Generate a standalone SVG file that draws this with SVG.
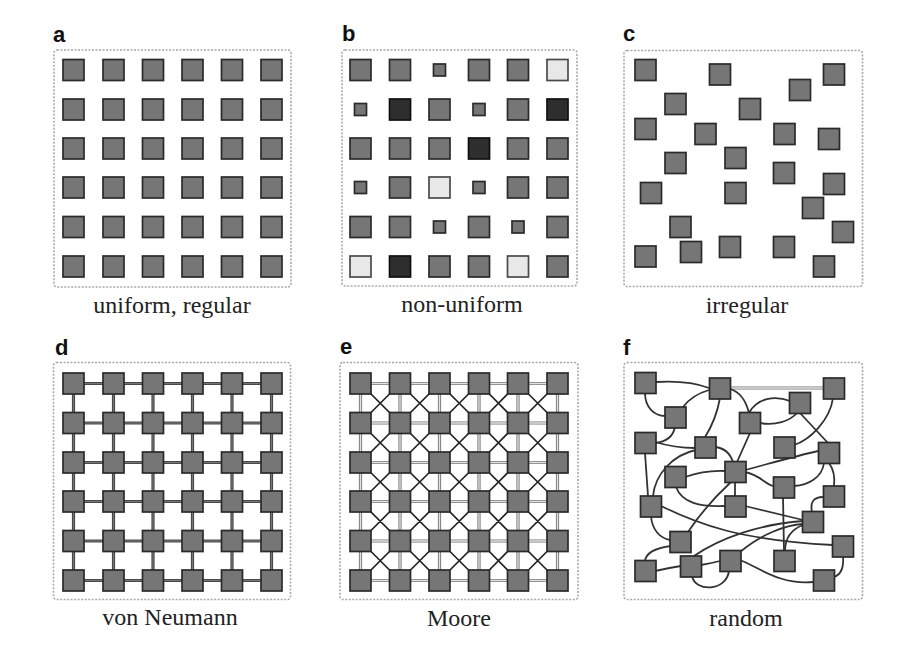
<svg xmlns="http://www.w3.org/2000/svg" width="902" height="646" viewBox="0 0 902 646">
<defs>
<filter id="soft" x="-5%" y="-5%" width="110%" height="110%"><feGaussianBlur stdDeviation="0.45"/></filter>
<style>
.fr{fill:none;stroke:#a9a9a9;stroke-width:1.6;stroke-dasharray:2 1.5}
.sq rect{fill:#767676;stroke:#2a2a2a;stroke-width:1.7}
.sq .lt{fill:#e8e8e8;stroke:#4a4a4a}
.sq .dk{fill:#2f2f2f;stroke:#111}
.lb{font-family:"Liberation Sans",Arial,sans-serif;font-weight:bold;font-size:22px;fill:#111}
.cap{font-family:"Liberation Serif","Times New Roman",serif;font-size:24px;fill:#222;text-anchor:middle}
.dO{fill:none;stroke:#4a4a4a;stroke-width:3.2}
.dI{fill:none;stroke:#767676;stroke-width:1}
.eO{fill:none;stroke:#7a7a7a;stroke-width:3.2}
.eI{fill:none;stroke:#e2e2e2;stroke-width:1.3}
.eD{fill:none;stroke:#222;stroke-width:1.7}
.fc{fill:none;stroke:#333;stroke-width:1.8}
</style>
</defs>
<rect width="902" height="646" fill="#fff"/>

<!-- frames -->
<g id="frames">
<rect class="fr" x="54" y="50" width="237" height="237" rx="3"/>
<rect class="fr" x="342" y="50" width="235" height="236" rx="3"/>
<rect class="fr" x="624" y="50.5" width="238.5" height="236" rx="3"/>
<rect class="fr" x="53.5" y="362.5" width="237" height="237" rx="3"/>
<rect class="fr" x="340" y="362.5" width="238" height="237" rx="3"/>
<rect class="fr" x="624" y="362.5" width="238.5" height="237" rx="3"/>
</g>

<!-- connectors -->
<g id="connectors" filter="url(#soft)">
<g id="conn-d">
<path class="dO" d="M73.5,383.5H271.5M73.5,423H271.5M73.5,462.5H271.5M73.5,501.5H271.5M73.5,541H271.5M73.5,580.5H271.5M73.5,383.5V580.5M113.5,383.5V580.5M153,383.5V580.5M192.5,383.5V580.5M232,383.5V580.5M271.5,383.5V580.5"/>
<path class="dI" d="M73.5,383.5H271.5M73.5,423H271.5M73.5,462.5H271.5M73.5,501.5H271.5M73.5,541H271.5M73.5,580.5H271.5M73.5,383.5V580.5M113.5,383.5V580.5M153,383.5V580.5M192.5,383.5V580.5M232,383.5V580.5M271.5,383.5V580.5"/>
</g>
<g id="conn-e">
<path class="eO" d="M360.5,383.5H557.5M360.5,423H557.5M360.5,462.5H557.5M360.5,501.5H557.5M360.5,541H557.5M360.5,580.5H557.5M360.5,383.5V580.5M400,383.5V580.5M439.5,383.5V580.5M479,383.5V580.5M518,383.5V580.5M557.5,383.5V580.5"/>
<path class="eI" d="M360.5,383.5H557.5M360.5,423H557.5M360.5,462.5H557.5M360.5,501.5H557.5M360.5,541H557.5M360.5,580.5H557.5M360.5,383.5V580.5M400,383.5V580.5M439.5,383.5V580.5M479,383.5V580.5M518,383.5V580.5M557.5,383.5V580.5"/>
<path class="eD" d="M360.5,383.5L400,423L439.5,462.5L479,501.5L518,541L557.5,580.5
M400,383.5L439.5,423L479,462.5L518,501.5L557.5,541
M439.5,383.5L479,423L518,462.5L557.5,501.5
M479,383.5L518,423L557.5,462.5
M518,383.5L557.5,423
M360.5,423L400,462.5L439.5,501.5L479,541L518,580.5
M360.5,462.5L400,501.5L439.5,541L479,580.5
M360.5,501.5L400,541L439.5,580.5
M360.5,541L400,580.5
M557.5,383.5L518,423L479,462.5L439.5,501.5L400,541L360.5,580.5
M518,383.5L479,423L439.5,462.5L400,501.5L360.5,541
M479,383.5L439.5,423L400,462.5L360.5,501.5
M439.5,383.5L400,423L360.5,462.5
M400,383.5L360.5,423
M557.5,423L518,462.5L479,501.5L439.5,541L400,580.5
M557.5,462.5L518,501.5L479,541L439.5,580.5
M557.5,501.5L518,541L479,580.5
M557.5,541L518,580.5"/>
</g>
<g id="conn-f">
<path class="eO" d="M730,388H823"/>
<path class="eI" d="M730,388H823"/>
<path class="fc" d="M656,382 Q688,380 709,388"/>
<path class="fc" d="M645,393 C645,408 655,416 665,416"/>
<path class="fc" d="M709,390 Q692,395 683,407"/>
<path class="fc" d="M720,398 Q716,420 705,437"/>
<path class="fc" d="M730,389 Q744,393 749,413"/>
<path class="fc" d="M749,413 C757,398 775,395 790,401"/>
<path class="fc" d="M760,423 C775,426 790,421 797,413"/>
<path class="fc" d="M800,413 L828,443"/>
<path class="fc" d="M833,398 C830,420 810,440 794,445"/>
<path class="fc" d="M750,433 L737,462"/>
<path class="fc" d="M675,427 C673,437 665,442 655,443"/>
<path class="fc" d="M655,442 Q675,448 695,448"/>
<path class="fc" d="M715,447 C725,448 730,453 733,462"/>
<path class="fc" d="M696,450 C672,455 655,475 653,496"/>
<path class="fc" d="M645,453 L648,496"/>
<path class="fc" d="M685,477 Q705,470 725,471"/>
<path class="fc" d="M745,470 C775,462 800,455 818,451"/>
<path class="fc" d="M745,472 C760,475 765,484 773,486"/>
<path class="fc" d="M735,482 L735,496"/>
<path class="fc" d="M731,482 Q706,505 688,532"/>
<path class="fc" d="M676,487 C682,503 700,507 725,506"/>
<path class="fc" d="M829,463 C834,470 835,478 834,486"/>
<path class="fc" d="M824,463 C822,478 808,485 794,486"/>
<path class="fc" d="M783,497 L784,551"/>
<path class="fc" d="M823,497 C813,497 810,503 812,512"/>
<path class="fc" d="M651,516 C652,530 660,538 670,540"/>
<path class="fc" d="M661,506 C700,525 740,540 833,545"/>
<path class="fc" d="M745,506 L803,520"/>
<path class="fc" d="M694,556 C720,538 760,524 803,521"/>
<path class="fc" d="M740,552 C760,535 785,525 803,524"/>
<path class="fc" d="M803,525 C790,530 785,540 785,551"/>
<path class="fc" d="M671,546 C655,548 646,553 645,561"/>
<path class="fc" d="M655,571 Q668,568 681,566"/>
<path class="fc" d="M701,565 Q712,563 720,561"/>
<path class="fc" d="M692,576 C695,592 726,592 729,571"/>
<path class="fc" d="M740,560 C760,568 780,585 813,582"/>
<path class="fc" d="M843,556 C844,568 840,575 834,577"/>
</g>
</g>

<!-- nodes -->
<g class="sq" filter="url(#soft)">
<g id="panel-a">
<g id="a11"><rect x="63" y="59.5" width="21" height="21"/></g><g id="a12"><rect x="103" y="59.5" width="21" height="21"/></g><g id="a13"><rect x="142.5" y="59.5" width="21" height="21"/></g><g id="a14"><rect x="182" y="59.5" width="21" height="21"/></g><g id="a15"><rect x="221.5" y="59.5" width="21" height="21"/></g><g id="a16"><rect x="261" y="59.5" width="21" height="21"/></g>
<g id="a21"><rect x="63" y="99" width="21" height="21"/></g><g id="a22"><rect x="103" y="99" width="21" height="21"/></g><g id="a23"><rect x="142.5" y="99" width="21" height="21"/></g><g id="a24"><rect x="182" y="99" width="21" height="21"/></g><g id="a25"><rect x="221.5" y="99" width="21" height="21"/></g><g id="a26"><rect x="261" y="99" width="21" height="21"/></g>
<g id="a31"><rect x="63" y="138" width="21" height="21"/></g><g id="a32"><rect x="103" y="138" width="21" height="21"/></g><g id="a33"><rect x="142.5" y="138" width="21" height="21"/></g><g id="a34"><rect x="182" y="138" width="21" height="21"/></g><g id="a35"><rect x="221.5" y="138" width="21" height="21"/></g><g id="a36"><rect x="261" y="138" width="21" height="21"/></g>
<g id="a41"><rect x="63" y="177" width="21" height="21"/></g><g id="a42"><rect x="103" y="177" width="21" height="21"/></g><g id="a43"><rect x="142.5" y="177" width="21" height="21"/></g><g id="a44"><rect x="182" y="177" width="21" height="21"/></g><g id="a45"><rect x="221.5" y="177" width="21" height="21"/></g><g id="a46"><rect x="261" y="177" width="21" height="21"/></g>
<g id="a51"><rect x="63" y="216.5" width="21" height="21"/></g><g id="a52"><rect x="103" y="216.5" width="21" height="21"/></g><g id="a53"><rect x="142.5" y="216.5" width="21" height="21"/></g><g id="a54"><rect x="182" y="216.5" width="21" height="21"/></g><g id="a55"><rect x="221.5" y="216.5" width="21" height="21"/></g><g id="a56"><rect x="261" y="216.5" width="21" height="21"/></g>
<g id="a61"><rect x="63" y="256" width="21" height="21"/></g><g id="a62"><rect x="103" y="256" width="21" height="21"/></g><g id="a63"><rect x="142.5" y="256" width="21" height="21"/></g><g id="a64"><rect x="182" y="256" width="21" height="21"/></g><g id="a65"><rect x="221.5" y="256" width="21" height="21"/></g><g id="a66"><rect x="261" y="256" width="21" height="21"/></g>
</g>
<g id="panel-b">
<g id="b11"><rect x="350" y="59.5" width="21" height="21"/></g><g id="b12"><rect x="389.5" y="59.5" width="21" height="21"/></g><g id="b13"><rect x="433.5" y="64" width="12" height="12"/></g><g id="b14"><rect x="468.5" y="59.5" width="21" height="21"/></g><g id="b15"><rect x="507.5" y="59.5" width="21" height="21"/></g><g id="b16"><rect class="lt" x="547" y="59.5" width="21" height="21"/></g>
<g id="b21"><rect x="354.5" y="103.5" width="12" height="12"/></g><g id="b22"><rect class="dk" x="389.5" y="99" width="21" height="21"/></g><g id="b23"><rect x="429" y="99" width="21" height="21"/></g><g id="b24"><rect x="473" y="103.5" width="12" height="12"/></g><g id="b25"><rect x="507.5" y="99" width="21" height="21"/></g><g id="b26"><rect class="dk" x="547" y="99" width="21" height="21"/></g>
<g id="b31"><rect x="350" y="138" width="21" height="21"/></g><g id="b32"><rect x="389.5" y="138" width="21" height="21"/></g><g id="b33"><rect x="429" y="138" width="21" height="21"/></g><g id="b34"><rect class="dk" x="468.5" y="138" width="21" height="21"/></g><g id="b35"><rect x="507.5" y="138" width="21" height="21"/></g><g id="b36"><rect x="547" y="138" width="21" height="21"/></g>
<g id="b41"><rect x="354.5" y="181.5" width="12" height="12"/></g><g id="b42"><rect x="389.5" y="177" width="21" height="21"/></g><g id="b43"><rect class="lt" x="429" y="177" width="21" height="21"/></g><g id="b44"><rect x="473" y="181.5" width="12" height="12"/></g><g id="b45"><rect x="507.5" y="177" width="21" height="21"/></g><g id="b46"><rect x="547" y="177" width="21" height="21"/></g>
<g id="b51"><rect x="350" y="216.5" width="21" height="21"/></g><g id="b52"><rect x="389.5" y="216.5" width="21" height="21"/></g><g id="b53"><rect x="433.5" y="221" width="12" height="12"/></g><g id="b54"><rect x="468.5" y="216.5" width="21" height="21"/></g><g id="b55"><rect x="512" y="221" width="12" height="12"/></g><g id="b56"><rect x="547" y="216.5" width="21" height="21"/></g>
<g id="b61"><rect class="lt" x="350" y="256" width="21" height="21"/></g><g id="b62"><rect class="dk" x="389.5" y="256" width="21" height="21"/></g><g id="b63"><rect x="429" y="256" width="21" height="21"/></g><g id="b64"><rect x="468.5" y="256" width="21" height="21"/></g><g id="b65"><rect class="lt" x="507.5" y="256" width="21" height="21"/></g><g id="b66"><rect x="547" y="256" width="21" height="21"/></g>
</g>
<g id="panel-c">
<g id="c1"><rect x="635" y="59.5" width="21" height="21"/></g>
<g id="c2"><rect x="709.5" y="64" width="21" height="21"/></g>
<g id="c3"><rect x="823.5" y="64" width="21" height="21"/></g>
<g id="c4"><rect x="789.5" y="79.5" width="21" height="21"/></g>
<g id="c5"><rect x="665" y="93.5" width="21" height="21"/></g>
<g id="c6"><rect x="739.5" y="98.5" width="21" height="21"/></g>
<g id="c7"><rect x="635" y="118.5" width="21" height="21"/></g>
<g id="c8"><rect x="695" y="123.5" width="21" height="21"/></g>
<g id="c9"><rect x="774" y="123.5" width="21" height="21"/></g>
<g id="c10"><rect x="818.5" y="128.5" width="21" height="21"/></g>
<g id="c11"><rect x="725" y="147.5" width="21" height="21"/></g>
<g id="c12"><rect x="665" y="152.5" width="21" height="21"/></g>
<g id="c13"><rect x="773.5" y="162.5" width="21" height="21"/></g>
<g id="c14"><rect x="823.5" y="173.5" width="21" height="21"/></g>
<g id="c15"><rect x="640.5" y="182.5" width="21" height="21"/></g>
<g id="c16"><rect x="725" y="182.5" width="21" height="21"/></g>
<g id="c17"><rect x="802.5" y="197.5" width="21" height="21"/></g>
<g id="c18"><rect x="670" y="216.5" width="21" height="21"/></g>
<g id="c19"><rect x="832.5" y="221.5" width="21" height="21"/></g>
<g id="c20"><rect x="635" y="246" width="21" height="21"/></g>
<g id="c21"><rect x="680.5" y="241.5" width="21" height="21"/></g>
<g id="c22"><rect x="719.5" y="236.5" width="21" height="21"/></g>
<g id="c23"><rect x="773.5" y="236.5" width="21" height="21"/></g>
<g id="c24"><rect x="813.5" y="256" width="21" height="21"/></g>
</g>
<g id="panel-d">
<g id="d11"><rect x="63" y="373" width="21" height="21"/></g><g id="d12"><rect x="103" y="373" width="21" height="21"/></g><g id="d13"><rect x="142.5" y="373" width="21" height="21"/></g><g id="d14"><rect x="182" y="373" width="21" height="21"/></g><g id="d15"><rect x="221.5" y="373" width="21" height="21"/></g><g id="d16"><rect x="261" y="373" width="21" height="21"/></g>
<g id="d21"><rect x="63" y="412.5" width="21" height="21"/></g><g id="d22"><rect x="103" y="412.5" width="21" height="21"/></g><g id="d23"><rect x="142.5" y="412.5" width="21" height="21"/></g><g id="d24"><rect x="182" y="412.5" width="21" height="21"/></g><g id="d25"><rect x="221.5" y="412.5" width="21" height="21"/></g><g id="d26"><rect x="261" y="412.5" width="21" height="21"/></g>
<g id="d31"><rect x="63" y="452" width="21" height="21"/></g><g id="d32"><rect x="103" y="452" width="21" height="21"/></g><g id="d33"><rect x="142.5" y="452" width="21" height="21"/></g><g id="d34"><rect x="182" y="452" width="21" height="21"/></g><g id="d35"><rect x="221.5" y="452" width="21" height="21"/></g><g id="d36"><rect x="261" y="452" width="21" height="21"/></g>
<g id="d41"><rect x="63" y="491" width="21" height="21"/></g><g id="d42"><rect x="103" y="491" width="21" height="21"/></g><g id="d43"><rect x="142.5" y="491" width="21" height="21"/></g><g id="d44"><rect x="182" y="491" width="21" height="21"/></g><g id="d45"><rect x="221.5" y="491" width="21" height="21"/></g><g id="d46"><rect x="261" y="491" width="21" height="21"/></g>
<g id="d51"><rect x="63" y="530.5" width="21" height="21"/></g><g id="d52"><rect x="103" y="530.5" width="21" height="21"/></g><g id="d53"><rect x="142.5" y="530.5" width="21" height="21"/></g><g id="d54"><rect x="182" y="530.5" width="21" height="21"/></g><g id="d55"><rect x="221.5" y="530.5" width="21" height="21"/></g><g id="d56"><rect x="261" y="530.5" width="21" height="21"/></g>
<g id="d61"><rect x="63" y="570" width="21" height="21"/></g><g id="d62"><rect x="103" y="570" width="21" height="21"/></g><g id="d63"><rect x="142.5" y="570" width="21" height="21"/></g><g id="d64"><rect x="182" y="570" width="21" height="21"/></g><g id="d65"><rect x="221.5" y="570" width="21" height="21"/></g><g id="d66"><rect x="261" y="570" width="21" height="21"/></g>
</g>
<g id="panel-e">
<g id="e11"><rect x="350" y="373" width="21" height="21"/></g><g id="e12"><rect x="389.5" y="373" width="21" height="21"/></g><g id="e13"><rect x="429" y="373" width="21" height="21"/></g><g id="e14"><rect x="468.5" y="373" width="21" height="21"/></g><g id="e15"><rect x="507.5" y="373" width="21" height="21"/></g><g id="e16"><rect x="547" y="373" width="21" height="21"/></g>
<g id="e21"><rect x="350" y="412.5" width="21" height="21"/></g><g id="e22"><rect x="389.5" y="412.5" width="21" height="21"/></g><g id="e23"><rect x="429" y="412.5" width="21" height="21"/></g><g id="e24"><rect x="468.5" y="412.5" width="21" height="21"/></g><g id="e25"><rect x="507.5" y="412.5" width="21" height="21"/></g><g id="e26"><rect x="547" y="412.5" width="21" height="21"/></g>
<g id="e31"><rect x="350" y="452" width="21" height="21"/></g><g id="e32"><rect x="389.5" y="452" width="21" height="21"/></g><g id="e33"><rect x="429" y="452" width="21" height="21"/></g><g id="e34"><rect x="468.5" y="452" width="21" height="21"/></g><g id="e35"><rect x="507.5" y="452" width="21" height="21"/></g><g id="e36"><rect x="547" y="452" width="21" height="21"/></g>
<g id="e41"><rect x="350" y="491" width="21" height="21"/></g><g id="e42"><rect x="389.5" y="491" width="21" height="21"/></g><g id="e43"><rect x="429" y="491" width="21" height="21"/></g><g id="e44"><rect x="468.5" y="491" width="21" height="21"/></g><g id="e45"><rect x="507.5" y="491" width="21" height="21"/></g><g id="e46"><rect x="547" y="491" width="21" height="21"/></g>
<g id="e51"><rect x="350" y="530.5" width="21" height="21"/></g><g id="e52"><rect x="389.5" y="530.5" width="21" height="21"/></g><g id="e53"><rect x="429" y="530.5" width="21" height="21"/></g><g id="e54"><rect x="468.5" y="530.5" width="21" height="21"/></g><g id="e55"><rect x="507.5" y="530.5" width="21" height="21"/></g><g id="e56"><rect x="547" y="530.5" width="21" height="21"/></g>
<g id="e61"><rect x="350" y="570" width="21" height="21"/></g><g id="e62"><rect x="389.5" y="570" width="21" height="21"/></g><g id="e63"><rect x="429" y="570" width="21" height="21"/></g><g id="e64"><rect x="468.5" y="570" width="21" height="21"/></g><g id="e65"><rect x="507.5" y="570" width="21" height="21"/></g><g id="e66"><rect x="547" y="570" width="21" height="21"/></g>
</g>
<g id="panel-f">
<g id="f1"><rect x="635" y="372.5" width="21" height="21"/></g>
<g id="f2"><rect x="709.5" y="378" width="21" height="21"/></g>
<g id="f3"><rect x="823.5" y="378" width="21" height="21"/></g>
<g id="f4"><rect x="789.5" y="392.5" width="21" height="21"/></g>
<g id="f5"><rect x="665" y="407" width="21" height="21"/></g>
<g id="f6"><rect x="739.5" y="412.5" width="21" height="21"/></g>
<g id="f7"><rect x="635" y="432.5" width="21" height="21"/></g>
<g id="f8"><rect x="695" y="437" width="21" height="21"/></g>
<g id="f9"><rect x="774" y="437" width="21" height="21"/></g>
<g id="f10"><rect x="818.5" y="442.5" width="21" height="21"/></g>
<g id="f11"><rect x="725" y="461.5" width="21" height="21"/></g>
<g id="f12"><rect x="665" y="466.5" width="21" height="21"/></g>
<g id="f13"><rect x="773.5" y="477" width="21" height="21"/></g>
<g id="f14"><rect x="823.5" y="486" width="21" height="21"/></g>
<g id="f15"><rect x="640.5" y="496" width="21" height="21"/></g>
<g id="f16"><rect x="725" y="496" width="21" height="21"/></g>
<g id="f17"><rect x="802.5" y="511.5" width="21" height="21"/></g>
<g id="f18"><rect x="670" y="531.5" width="21" height="21"/></g>
<g id="f19"><rect x="832.5" y="536" width="21" height="21"/></g>
<g id="f20"><rect x="635" y="560.5" width="21" height="21"/></g>
<g id="f21"><rect x="680.5" y="556" width="21" height="21"/></g>
<g id="f22"><rect x="720" y="550.5" width="21" height="21"/></g>
<g id="f23"><rect x="774" y="550.5" width="21" height="21"/></g>
<g id="f24"><rect x="813.5" y="570" width="21" height="21"/></g>
</g>
</g>

<!-- labels -->
<g id="labels">
<text class="lb" x="53" y="42">a</text>
<text class="lb" x="342" y="41">b</text>
<text class="lb" x="623" y="41">c</text>
<text class="lb" x="55" y="355">d</text>
<text class="lb" x="340" y="354">e</text>
<text class="lb" x="623" y="355">f</text>
<text class="cap" x="172" y="313">uniform, regular</text>
<text class="cap" x="462" y="312">non-uniform</text>
<text class="cap" x="747" y="313">irregular</text>
<text class="cap" x="170" y="625">von Neumann</text>
<text class="cap" x="459" y="626">Moore</text>
<text class="cap" x="746" y="626">random</text>
</g>
</svg>
